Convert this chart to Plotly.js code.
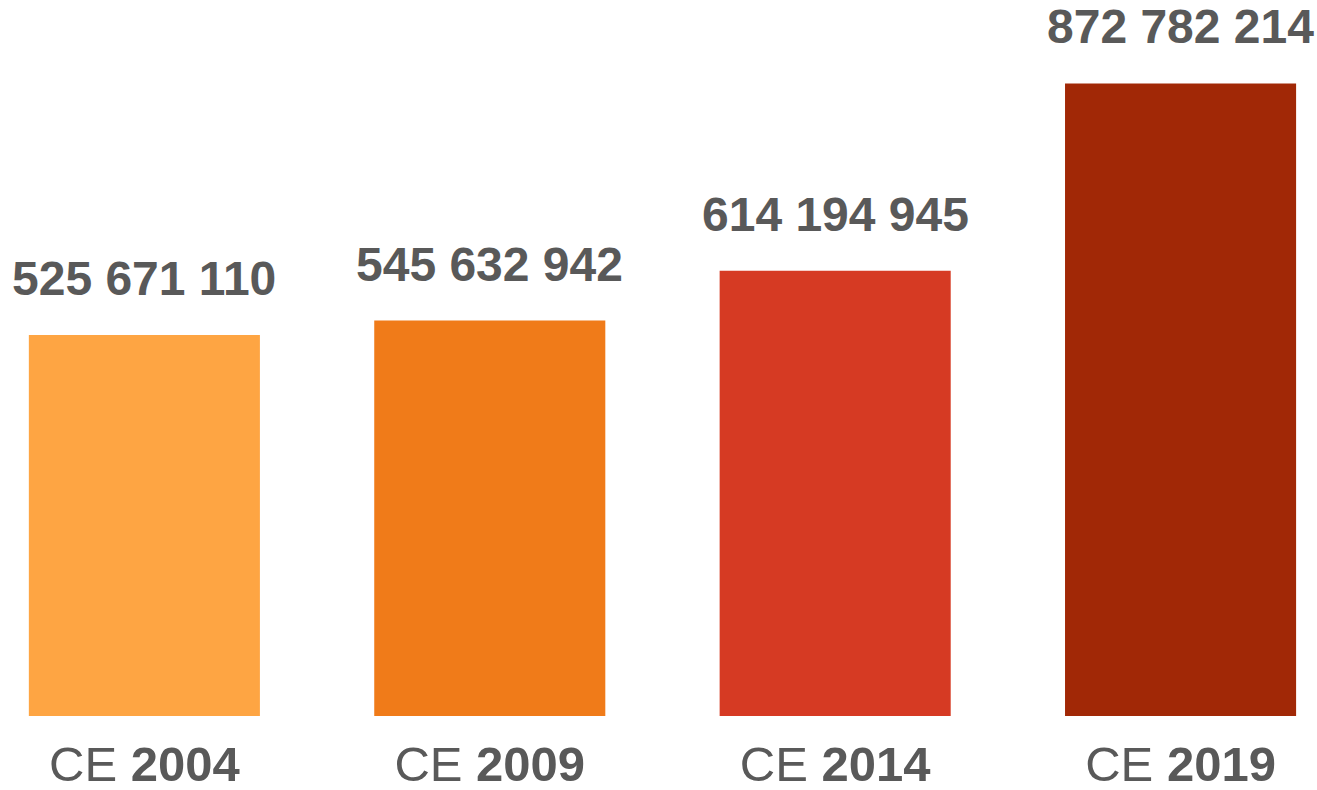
<!DOCTYPE html>
<html>
<head>
<meta charset="utf-8">
<script src="https://cdn.plot.ly/plotly-3.0.1.min.js"></script>
<style>html,body{margin:0;padding:0;background:#fff;}#chart{width:1317px;height:790px;}</style>
</head>
<body>
<div id="chart"></div>
<script>
const years = ["2004", "2009", "2014", "2019"];
const values = [525671110, 545632942, 614194945, 872782214];
const valueLabels = ["525 671 110", "545 632 942", "614 194 945", "872 782 214"];
const barColors = ["#FEA543", "#F07B19", "#D63A23", "#A12806"];

const tickText = years.map(y => "CE <b>" + y + "</b>");

const trace = {
  type: "bar",
  x: years,
  y: values,
  marker: {color: barColors},
  hoverinfo: "none"
};

const annotations = years.map((y, i) => ({
  x: i, y: values[i], xref: "x", yref: "y",
  text: "<b>" + valueLabels[i] + "</b>",
  showarrow: false, yanchor: "bottom", xanchor: "center",
  yshift: 29, borderpad: 0,
  font: {family: "Liberation Sans, Arial, sans-serif", size: 48, color: "#595959"}
}));

const layout = {
  width: 1317, height: 790,
  margin: {l: 0, r: 0, t: 0, b: 74},
  paper_bgcolor: "#ffffff", plot_bgcolor: "#ffffff",
  bargap: 0.331,
  showlegend: false,
  xaxis: {
    type: "category",
    range: [-0.418, 3.395],
    tickvals: years, ticktext: tickText,
    showgrid: false, zeroline: false, showline: false, ticks: "",
    ticklabelstandoff: 15,
    tickfont: {family: "Liberation Sans, Arial, sans-serif", size: 49, color: "#595959"}
  },
  yaxis: {
    range: [0, 987.9e6],
    showgrid: false, zeroline: false, showline: false, showticklabels: false, ticks: ""
  },
  annotations: annotations
};

Plotly.newPlot("chart", [trace], layout, {displayModeBar: false, staticPlot: true});
</script>
</body>
</html>
